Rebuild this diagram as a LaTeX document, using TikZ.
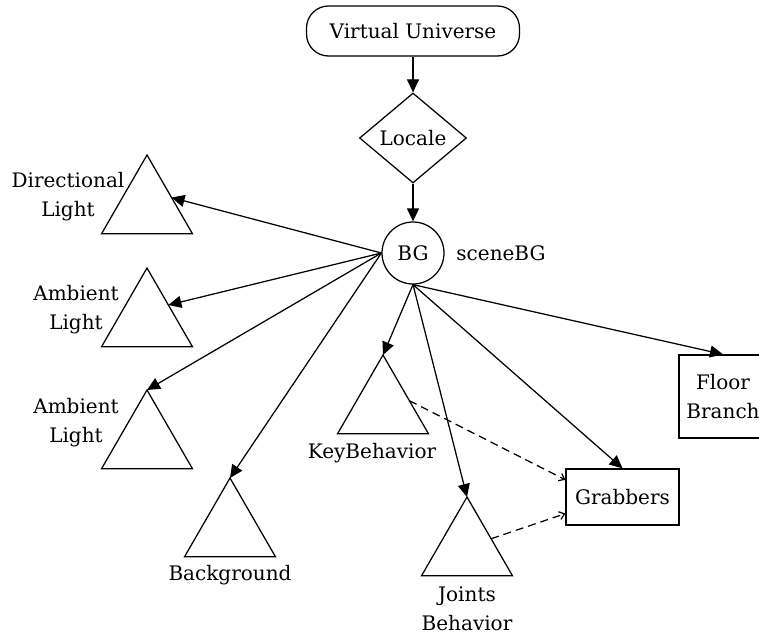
\documentclass[tikz,border=0pt]{standalone}
\usepackage{fontspec}
\setmainfont{DejaVu Serif}
\usetikzlibrary{shapes.geometric,arrows.meta,calc}
\begin{document}
\begin{tikzpicture}[x=1pt,y=-1pt,
  every node/.style={font=\fontsize{20}{29}\selectfont},
  line width=1.25pt,
  arr/.style={-{Triangle[length=13pt,width=12pt]}},
  darr/.style={-{Straight Barb[length=5pt,width=8pt]},dash pattern=on 8pt off 5pt},
  tri/.style={draw,regular polygon,regular polygon sides=3,minimum size=105pt,inner sep=0pt,outer sep=0pt},
  lbl/.style={align=center,inner sep=0pt},
  box/.style={draw,rectangle,inner sep=0pt,align=center}]
\useasboundingbox (0,0) rectangle (759,635);
\fill[white] (0,0) rectangle (759,635);
% main nodes
\node[draw,rounded corners=22pt,minimum width=213pt,minimum height=50pt,inner sep=0pt] (vu) at (413,31) {Virtual Universe};
\node[draw,diamond,minimum width=107pt,minimum height=90pt,inner sep=0pt] (loc) at (413,138) {Locale};
\node[draw,circle,minimum size=62pt,inner sep=0pt] (bg) at (413,253) {BG};
\node[lbl] (sbg) at (501,253) {sceneBG};
% triangles
\node[tri] (dl) at (147,207.5) {};
\node[tri] (al1) at (147,320.5) {};
\node[tri] (al2) at (147,442.5) {};
\node[tri] (bk) at (230,530.5) {};
\node[tri] (kb) at (383,407.5) {};
\node[tri] (jb) at (467,549.5) {};
% labels
\node[lbl] (dlt) at (68,197) {Directional\\Light};
\node[lbl] (al1t) at (76,310) {Ambient\\Light};
\node[lbl] (al2t) at (76,423) {Ambient\\Light};
\node[lbl] (bkt) at (230,575) {Background};
\node[lbl] (kbt) at (372,453) {KeyBehavior};
\node[lbl] (jbt) at (467,609) {Joints\\Behavior};
% boxes
\node[box,minimum width=88pt,minimum height=83pt] (fb) at (723,396.5) {Floor\\Branch};
\node[box,minimum width=113pt,minimum height=56pt] (gr) at (622.5,497) {Grabbers};
% connectors
\draw[arr] (vu) -- (loc);
\draw[arr] (loc) -- (bg);
\draw[arr] (bg.west) -- ($(dl.corner 1)!0.54!(dl.corner 3)$);
\draw[arr] (bg.west) -- ($(al1.corner 1)!0.47!(al1.corner 3)$);
\draw[arr] (bg.west) -- (al2.corner 1);
\draw[arr] (bg.west) -- (bk.corner 1);
\draw[arr] (bg.south) -- (kb.corner 1);
\draw[arr] (bg.south) -- (jb.corner 1);
\draw[arr] (bg.south) -- (gr.north);
\draw[arr] (bg.south) -- (fb.north);
\draw[darr] ($(kb.corner 1)!0.58!(kb.corner 3)$) -- ($(gr.north west)!0.2!(gr.south west)$);
\draw[darr] ($(jb.corner 1)!0.53!(jb.corner 3)$) -- ($(gr.north west)!0.79!(gr.south west)$);
\end{tikzpicture}
\end{document}
